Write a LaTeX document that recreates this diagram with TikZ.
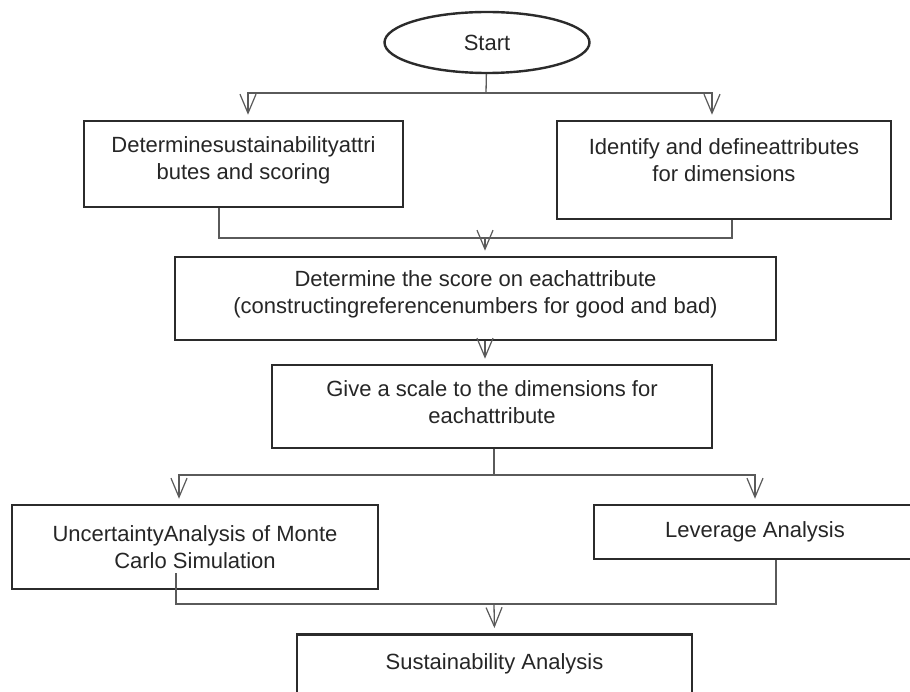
\documentclass[tikz,border=0pt]{standalone}
\usepackage{fontspec}
\setmainfont{Liberation Sans}
\usetikzlibrary{arrows.meta,shapes.geometric}
\definecolor{boxLine}{HTML}{2B2B2B}
\definecolor{linkLine}{HTML}{5A5A5A}
\definecolor{txtGray}{HTML}{262626}

\begin{document}
\begin{tikzpicture}[
  x=1pt, y=-1pt,
  font=\fontsize{22}{27}\selectfont,
  box/.style={draw=boxLine, line width=2.5pt, align=center, text=txtGray, inner sep=0pt},
  link/.style={draw=linkLine, line width=1.3pt},
  arr/.style={link, -{Straight Barb[length=19pt,width=16pt,line width=1.2pt]}, shorten >=5pt}
]
\useasboundingbox (0,0) rectangle (910,692);
\fill[white] (0,0) rectangle (910,692);
\node[ellipse, draw=boxLine, line width=2.4pt, minimum width=205pt, minimum height=61pt, inner sep=0pt, text=txtGray] (start) at (487,42.5) {Start};
\node[box, minimum width=319pt, minimum height=86pt, text depth=12pt] (attr) at (243.5,164) {Determinesustainabilityattri\\butes and scoring};
\node[box, minimum width=334pt, minimum height=98pt, text depth=20pt] (ident) at (724,170) {Identify and defineattributes\\for dimensions};
\node[box, minimum width=601pt, minimum height=83pt, text depth=12pt] (score) at (475.5,298.5) {Determine the score on eachattribute\\(constructingreferencenumbers for good and bad)};
\node[box, minimum width=440pt, minimum height=83pt, text depth=8pt] (scale) at (492,406.5) {Give a scale to the dimensions for\\eachattribute};
\node[box, minimum width=366pt, minimum height=84pt] (mc) at (195,547) {UncertaintyAnalysis of Monte\\Carlo Simulation};
\node[box, minimum width=322pt, minimum height=54pt] (lev) at (755,532) {Leverage Analysis};
\node[box, minimum width=395pt, text depth=50pt, inner ysep=19pt, anchor=north] (sust) at (494.5,633) {Sustainability Analysis};

\coordinate (split1) at (486,93);
\draw[link] (start) -- (split1);
\draw[arr] (split1) -| ([xshift=4.5pt]attr.north);
\draw[arr] (split1) -| ([xshift=-12pt]ident.north);
\coordinate (merge1) at (485,238);
\draw[link] ([xshift=-24.5pt]attr.south) |- (merge1) -| ([xshift=8pt]ident.south);
\draw[arr] (merge1) -- (merge1 |- score.north);
\draw[arr] (merge1 |- score.south) -- (merge1 |- scale.north);
\coordinate (split2) at (494,475);
\draw[link] (split2 |- scale.south) -- (split2);
\draw[arr] (split2) -| ([xshift=-16pt]mc.north);
\draw[arr] (split2) -| (lev.north);
\coordinate (merge2) at (494,604);
\draw[link] ([shift={(-19pt,17pt)}]mc.south) |- (merge2) -| ([xshift=21pt]lev.south);
\draw[arr] (merge2) -- (sust.north);
\end{tikzpicture}
\end{document}
